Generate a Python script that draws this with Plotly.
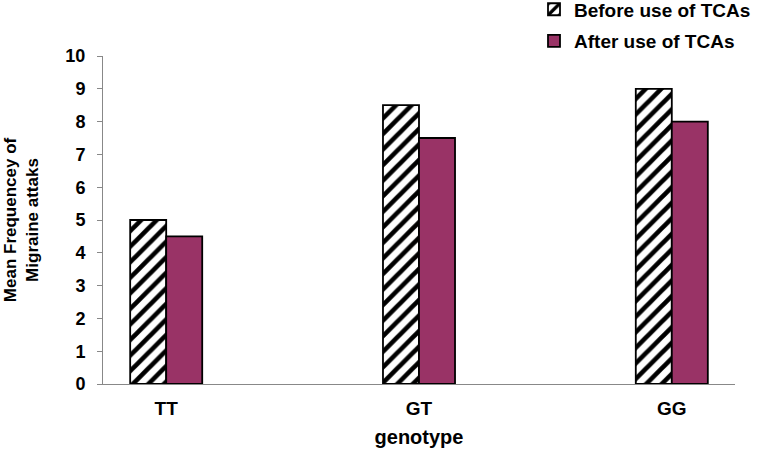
import plotly.graph_objects as go

categories = ["TT", "GT", "GG"]
before_vals = [5, 8.5, 9]
after_vals = [4.5, 7.5, 8]
series_names = ["Before use of TCAs", "After use of TCAs"]
y_ticks = list(range(0, 11))

FONT = "Liberation Sans, Arial, sans-serif"

fig = go.Figure()
fig.add_trace(go.Bar(
    x=categories, y=before_vals, name=series_names[0], legendgroup="a",
    marker=dict(color="white",
                line=dict(color="black", width=1.8),
                pattern=dict(shape="/", fgcolor="black", bgcolor="white",
                             fgopacity=1, fillmode="replace",
                             size=11, solidity=0.42)),
))
fig.add_trace(go.Bar(
    x=categories, y=after_vals, name=series_names[1], legendgroup="b",
    marker=dict(color="#993366", line=dict(color="black", width=1.8)),
))

fig.update_layout(
    width=767, height=452,
    margin=dict(l=103, r=32, t=56, b=68, autoexpand=False),
    paper_bgcolor="white", plot_bgcolor="white",
    barmode="group", bargap=0.715, bargroupgap=0,
    font=dict(family=FONT, color="black", size=16, weight="bold"),
    legend=dict(x=534 / 767, y=1.2, xref="container", yref="paper",
                xanchor="left", yanchor="top", bgcolor="rgba(0,0,0,0)",
                font=dict(size=19, family=FONT, weight="bold"),
                traceorder="grouped", tracegroupgap=4, itemwidth=30),
    showlegend=True,
)
fig.update_xaxes(
    range=[-0.25, 2.25], showline=True, linecolor="#888888", linewidth=1,
    ticks="", ticklabelstandoff=7,
    tickfont=dict(size=19, family=FONT, weight="bold"),
    title=dict(text="genotype", font=dict(size=20, family=FONT, weight="bold"),
               standoff=12),
)
fig.update_yaxes(
    range=[0, 10], tickvals=y_ticks, showline=True, linecolor="#888888",
    linewidth=1, ticks="outside", tickcolor="#888888", ticklen=5,
    ticklabelstandoff=8,
    showgrid=False, zeroline=False,
    tickfont=dict(size=18, family=FONT, weight="bold"),
    title=dict(text="Mean Frequencey of<br>Migraine attaks",
               font=dict(size=17, family=FONT, weight="bold"), standoff=22),
)

fig.write_html("out.html", config={"displayModeBar": False},
               post_script="document.body.style.margin='0';")
